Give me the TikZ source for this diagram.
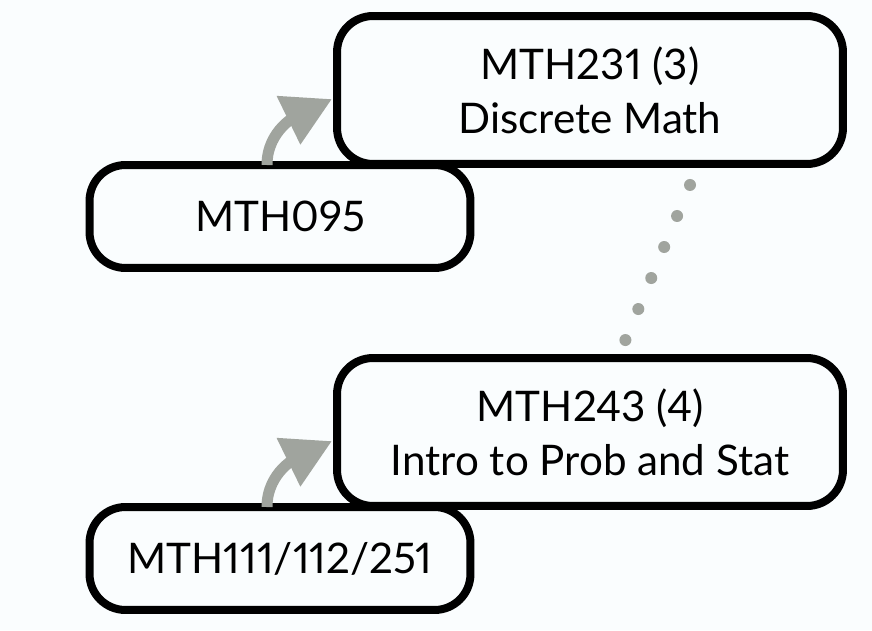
\documentclass[tikz,border=0pt]{standalone}
\usepackage{fontspec}
\setmainfont{Lato}[Numbers=Proportional]
\usetikzlibrary{arrows.meta}
\definecolor{bgcol}{RGB}{250,253,254}
\definecolor{linkgray}{RGB}{160,164,158}
\begin{document}
\begin{tikzpicture}[x=0.02cm, y=0.02cm, line join=round,
    course/.style={draw, line width=0.16cm, rounded corners=0.72cm, fill=bgcol,
      outer sep=0pt, align=center, inner sep=0pt, font=\fontsize{24}{30.7}\selectfont},
    wide/.style={minimum width=10.12cm, minimum height=2.96cm},
    narrow/.style={minimum width=7.62cm, minimum height=2.06cm},
    prereq/.style={draw=linkgray, line width=0.22cm,
      -{Triangle[length=0.97cm, width=1.02cm, fill=linkgray]}}]
    \fill[bgcol] (0,0) rectangle (872,630);
    % prerequisite boxes
    \node[course, narrow] (m095) at (280,413.5) {MTH095};
    \node[course, narrow] (m111) at (280,71.5) {MTH111/112/251};
    % course boxes
    \node[course, wide] (m231) at (590,540) {MTH231\ (3)\\Discrete Math};
    \node[course, wide] (m243) at (590,198) {MTH243 (4)\\Intro to Prob and Stat};
    % curved arrows into the courses
    \foreach \a/\b in {m095/m231, m111/m243}
      \draw[prereq] ([shift={(-13,0)}]\a.north) to[out=90, in=206] ([shift={(-5,-9)}]\b.west);
    % dotted link between the two courses
    \draw[linkgray, line width=0.24cm, line cap=round, dash pattern=on 0pt off 0.672cm]
      ([shift={(100,-21)}]m231.south) -- ([shift={(35,17)}]m243.north);
\end{tikzpicture}
\end{document}
